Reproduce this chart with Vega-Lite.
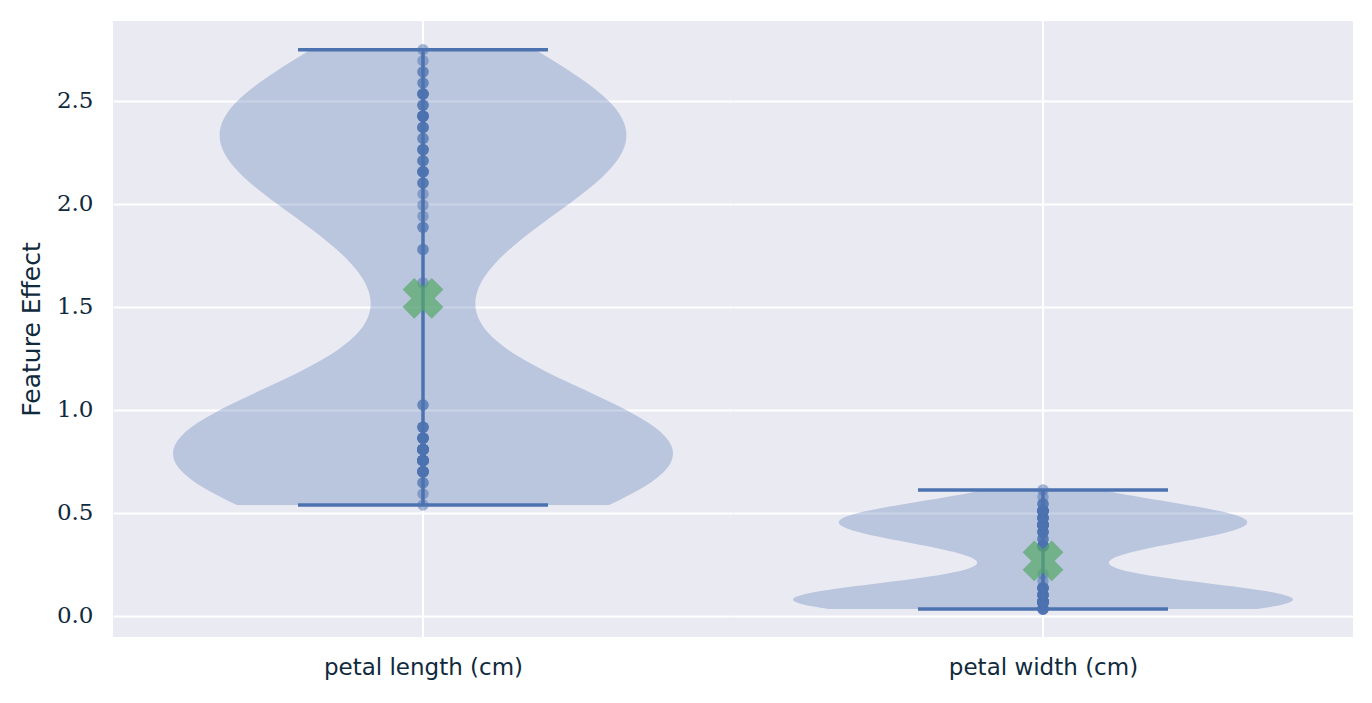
{
  "$schema": "https://vega.github.io/schema/vega-lite/v6.json",
  "background": "white",
  "padding": {"left": 19, "top": 20, "right": 19, "bottom": 5},
  "datasets": {
    "pl": [
      {"v":0.539},{"v":0.5929},{"v":0.6468},{"v":0.6468},
      {"v":0.7007},{"v":0.7007},{"v":0.7007},{"v":0.7007},{"v":0.7007},{"v":0.7007},{"v":0.7007},
      {"v":0.7546},{"v":0.7546},{"v":0.7546},{"v":0.7546},{"v":0.7546},{"v":0.7546},{"v":0.7546},{"v":0.7546},{"v":0.7546},{"v":0.7546},{"v":0.7546},{"v":0.7546},{"v":0.7546},
      {"v":0.8085},{"v":0.8085},{"v":0.8085},{"v":0.8085},{"v":0.8085},{"v":0.8085},{"v":0.8085},{"v":0.8085},{"v":0.8085},{"v":0.8085},{"v":0.8085},{"v":0.8085},{"v":0.8085},
      {"v":0.8624},{"v":0.8624},{"v":0.8624},{"v":0.8624},{"v":0.8624},{"v":0.8624},{"v":0.8624},
      {"v":0.9163},{"v":0.9163},{"v":0.9163},{"v":0.9163},
      {"v":1.0241},{"v":1.0241},
      {"v":1.617},
      {"v":1.7787},{"v":1.7787},
      {"v":1.8865},{"v":1.8865},
      {"v":1.9404},{"v":1.9943},{"v":2.0482},
      {"v":2.1021},{"v":2.1021},{"v":2.1021},
      {"v":2.156},{"v":2.156},{"v":2.156},{"v":2.156},{"v":2.156},
      {"v":2.2099},{"v":2.2099},{"v":2.2099},
      {"v":2.2638},{"v":2.2638},{"v":2.2638},{"v":2.2638},
      {"v":2.3177},{"v":2.3177},
      {"v":2.3716},{"v":2.3716},{"v":2.3716},{"v":2.3716},
      {"v":2.4255},{"v":2.4255},{"v":2.4255},{"v":2.4255},{"v":2.4255},{"v":2.4255},{"v":2.4255},
      {"v":2.4794},{"v":2.4794},{"v":2.4794},
      {"v":2.5333},{"v":2.5333},{"v":2.5333},{"v":2.5333},{"v":2.5333},
      {"v":2.5872},{"v":2.5872},
      {"v":2.6411},{"v":2.6411},
      {"v":2.695},{"v":2.7489}
    ],
    "pw": [
      {"v":0.034},{"v":0.034},{"v":0.034},{"v":0.034},{"v":0.034},
      {"v":0.068},{"v":0.068},{"v":0.068},{"v":0.068},{"v":0.068},{"v":0.068},{"v":0.068},{"v":0.068},{"v":0.068},{"v":0.068},
      {"v":0.068},{"v":0.068},{"v":0.068},{"v":0.068},{"v":0.068},{"v":0.068},{"v":0.068},{"v":0.068},{"v":0.068},{"v":0.068},
      {"v":0.068},{"v":0.068},{"v":0.068},{"v":0.068},{"v":0.068},{"v":0.068},{"v":0.068},{"v":0.068},{"v":0.068},
      {"v":0.102},{"v":0.102},{"v":0.102},{"v":0.102},{"v":0.102},{"v":0.102},{"v":0.102},
      {"v":0.136},{"v":0.136},{"v":0.136},{"v":0.136},{"v":0.136},{"v":0.136},{"v":0.136},
      {"v":0.17},{"v":0.204},
      {"v":0.34},{"v":0.34},{"v":0.34},{"v":0.34},{"v":0.34},{"v":0.34},{"v":0.34},
      {"v":0.374},{"v":0.374},{"v":0.374},
      {"v":0.408},{"v":0.408},{"v":0.408},{"v":0.408},{"v":0.408},
      {"v":0.442},{"v":0.442},{"v":0.442},{"v":0.442},{"v":0.442},{"v":0.442},{"v":0.442},{"v":0.442},{"v":0.442},{"v":0.442},{"v":0.442},{"v":0.442},{"v":0.442},
      {"v":0.476},{"v":0.476},{"v":0.476},{"v":0.476},{"v":0.476},{"v":0.476},{"v":0.476},
      {"v":0.51},{"v":0.51},{"v":0.51},{"v":0.51},{"v":0.51},{"v":0.51},{"v":0.51},{"v":0.51},{"v":0.51},{"v":0.51},
      {"v":0.544},{"v":0.544},{"v":0.544},
      {"v":0.578},{"v":0.612}
    ]
  },
  "spacing": 0,
  "bounds": "flush",
  "hconcat": [
    {
      "width": 620,
      "height": 616,
      "data": {"name": "pl"},
      "encoding": {
        "y": {
          "field": "v", "type": "quantitative", "title": "Feature Effect",
          "scale": {"domain": [-0.102, 2.888], "nice": false, "zero": false},
          "axis": {"values": [0, 0.5, 1, 1.5, 2, 2.5], "format": ".1f", "labelFont": "DejaVu Serif", "labelFontSize": 23, "labelPadding": 20, "ticks": false, "domain": false, "grid": true, "titleFont": "DejaVu Sans", "titleFontSize": 25, "titleFontWeight": "normal", "titlePadding": 12}
        }
      },
      "layer": [
        {"mark": {"type": "rule", "color": "white", "strokeWidth": 2}, "encoding": {"y": {"datum": -0.102, "type": "quantitative"}, "y2": {"datum": 2.888}}},
        {
          "transform": [{"density": "v", "bandwidth": 0.311, "extent": [0.539, 2.7489], "steps": 100, "as": ["v", "density"]}],
          "mark": {"type": "area", "orient": "horizontal", "color": "#4C72B0", "opacity": 0.3},
          "encoding": {
            "x": {"field": "density", "type": "quantitative", "stack": "center", "impute": null,
              "scale": {"nice": false, "zero": false, "padding": 60},
              "axis": {"title": "petal length (cm)", "labels": false, "ticks": false, "domain": false, "grid": false, "titleFont": "DejaVu Sans", "titleFontSize": 23, "titleFontWeight": "normal", "titleBaseline": "alphabetic", "titlePadding": 37}}
          }
        },
        {"mark": {"type": "circle", "color": "#4C72B0", "opacity": 0.5, "size": 130}},
        {"mark": {"type": "rule", "color": "#4C72B0", "strokeWidth": 3.5}, "encoding": {"y": {"aggregate": "min", "field": "v", "type": "quantitative"}, "y2": {"aggregate": "max", "field": "v"}}},
        {"mark": {"type": "tick", "color": "#4C72B0", "size": 250, "thickness": 3.5, "opacity": 1}, "encoding": {"y": {"aggregate": "min", "field": "v", "type": "quantitative"}}},
        {"mark": {"type": "tick", "color": "#4C72B0", "size": 250, "thickness": 3.5, "opacity": 1}, "encoding": {"y": {"aggregate": "max", "field": "v", "type": "quantitative"}}},
        {"mark": {"type": "point", "shape": "cross", "angle": 45, "filled": true, "color": "#55A868", "opacity": 0.7, "size": 1700}, "encoding": {"y": {"aggregate": "mean", "field": "v", "type": "quantitative"}}}
      ]
    },
    {
      "width": 620,
      "height": 616,
      "data": {"name": "pw"},
      "encoding": {
        "y": {
          "field": "v", "type": "quantitative", "title": null,
          "scale": {"domain": [-0.102, 2.888], "nice": false, "zero": false},
          "axis": {"values": [0, 0.5, 1, 1.5, 2, 2.5], "labels": false, "ticks": false, "domain": false, "grid": true, "title": null}
        }
      },
      "layer": [
        {"mark": {"type": "rule", "color": "white", "strokeWidth": 2}, "encoding": {"y": {"datum": -0.102, "type": "quantitative"}, "y2": {"datum": 2.888}}},
        {
          "transform": [{"density": "v", "bandwidth": 0.0765, "extent": [0.034, 0.612], "steps": 100, "as": ["v", "density"]}],
          "mark": {"type": "area", "orient": "horizontal", "color": "#4C72B0", "opacity": 0.3},
          "encoding": {
            "x": {"field": "density", "type": "quantitative", "stack": "center", "impute": null,
              "scale": {"nice": false, "zero": false, "padding": 60},
              "axis": {"title": "petal width (cm)", "labels": false, "ticks": false, "domain": false, "grid": false, "titleFont": "DejaVu Sans", "titleFontSize": 23, "titleFontWeight": "normal", "titleBaseline": "alphabetic", "titlePadding": 37}}
          }
        },
        {"mark": {"type": "circle", "color": "#4C72B0", "opacity": 0.5, "size": 130}},
        {"mark": {"type": "rule", "color": "#4C72B0", "strokeWidth": 3.5}, "encoding": {"y": {"aggregate": "min", "field": "v", "type": "quantitative"}, "y2": {"aggregate": "max", "field": "v"}}},
        {"mark": {"type": "tick", "color": "#4C72B0", "size": 250, "thickness": 3.5, "opacity": 1}, "encoding": {"y": {"aggregate": "min", "field": "v", "type": "quantitative"}}},
        {"mark": {"type": "tick", "color": "#4C72B0", "size": 250, "thickness": 3.5, "opacity": 1}, "encoding": {"y": {"aggregate": "max", "field": "v", "type": "quantitative"}}},
        {"mark": {"type": "point", "shape": "cross", "angle": 45, "filled": true, "color": "#55A868", "opacity": 0.7, "size": 1700}, "encoding": {"y": {"aggregate": "mean", "field": "v", "type": "quantitative"}}}
      ]
    }
  ],
  "config": {
    "view": {"fill": "#EAEAF2", "stroke": null},
    "axis": {"labelColor": "#0F2A3C", "titleColor": "#0F2A3C", "gridColor": "white", "gridWidth": 2, "gridOpacity": 1}
  }
}
